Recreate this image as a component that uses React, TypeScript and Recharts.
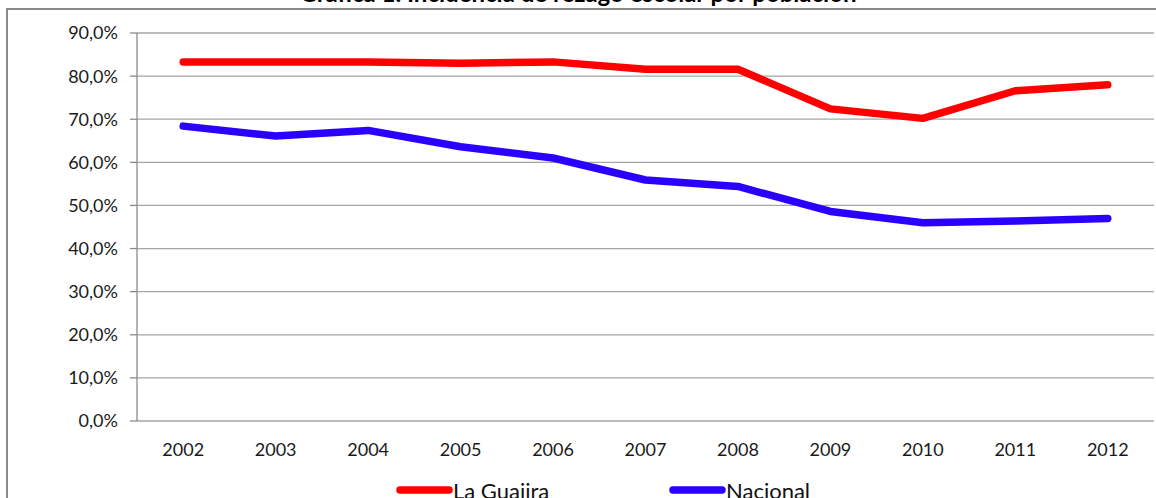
import React from "react";
import { LineChart, Line, XAxis, YAxis, CartesianGrid, Legend } from "recharts";

// Tasas por año
const years = [2002, 2003, 2004, 2005, 2006, 2007, 2008, 2009, 2010, 2011, 2012];
const laGuajira = [83.3, 83.3, 83.3, 83.0, 83.3, 81.6, 81.6, 72.4, 70.2, 76.6, 78.0];
const nacional = [68.4, 66.1, 67.4, 63.6, 61.0, 55.9, 54.4, 48.6, 46.0, 46.4, 47.0];
const yTicks = [0, 10, 20, 30, 40, 50, 60, 70, 80, 90];

const title = "Gráfica 1. Incidencia de rezago escolar por población";

const data = years.map((year, i) => ({
  year,
  laGuajira: laGuajira[i],
  nacional: nacional[i],
}));

// Excel-style tick marks sit between categories
const boundaryTicks = [...years.map((y) => y - 0.5), years[years.length - 1] + 0.5];
const xDomain = [boundaryTicks[0], boundaryTicks[boundaryTicks.length - 1]];

const FONT = "Lato, 'Open Sans', sans-serif";
const AXIS = "#8c8c8c";

const fmtPct = (v: number) => `${v.toFixed(1).replace(".", ",")}%`;

// legend swatch positions (px from left of the chart)
const legendX = [397, 670];

function LegendContent(props: any) {
  const payload = props.payload || [];
  return (
    <svg width={1156} height={30} style={{ overflow: "visible", display: "block" }}>
      {payload.map((entry: any, i: number) => (
        <g key={entry.value}>
          <line
            x1={legendX[i] + 3}
            x2={legendX[i] + 52}
            y1={22}
            y2={22}
            stroke={entry.color}
            strokeWidth={7.5}
            strokeLinecap="round"
          />
          <text x={legendX[i] + 56} y={31} fontSize={22} fontFamily={FONT} fill="#111">
            {entry.value}
          </text>
        </g>
      ))}
    </svg>
  );
}

export default function App() {
  return (
    <div
      style={{
        position: "absolute",
        left: 0,
        top: 0,
        width: 1156,
        height: 498,
        overflow: "hidden",
        background: "#fff",
        fontFamily: FONT,
      }}
    >
      <div
        style={{
          position: "absolute",
          left: 0,
          top: -22,
          width: 1156,
          textAlign: "center",
          fontWeight: 700,
          fontSize: 24,
          lineHeight: "normal",
          color: "#000",
        }}
      >
        {title}
      </div>
      <div
        style={{
          position: "absolute",
          left: 6,
          top: 8,
          width: 1160,
          height: 500,
          borderLeft: "2px solid #8a8a8a",
          borderTop: "2px solid #8a8a8a",
          boxSizing: "border-box",
        }}
      />
      <div style={{ position: "absolute", left: 0, top: 0 }}>
        <LineChart
          width={1156}
          height={498}
          data={data}
          margin={{ top: 33, right: 2, bottom: 0, left: 0 }}
        >
          <CartesianGrid vertical={false} stroke="#a6a6a6" strokeWidth={1.3} />
          <XAxis
            dataKey="year"
            type="number"
            domain={xDomain}
            ticks={boundaryTicks}
            allowDataOverflow
            height={0}
            tickSize={7}
            tick={() => <g />}
            stroke={AXIS}
            strokeWidth={1.3}
          />
          <XAxis
            xAxisId="labels"
            dataKey="year"
            type="number"
            domain={xDomain}
            ticks={years}
            allowDataOverflow
            height={47}
            axisLine={false}
            tickLine={false}
            tickSize={0}
            tickMargin={22}
            tick={{ fill: "#1a1a1a", fontSize: 18, fontFamily: FONT }}
            tickFormatter={(v) => String(v)}
          />
          <YAxis
            width={137}
            domain={[0, 90]}
            ticks={yTicks}
            interval={0}
            tickSize={7}
            tickMargin={12}
            stroke={AXIS}
            strokeWidth={1.3}
            tick={{ fill: "#1a1a1a", fontSize: 18, fontFamily: FONT }}
            tickFormatter={fmtPct}
          />
          <Legend verticalAlign="bottom" height={30} wrapperStyle={{ left: 0, width: 1156 }} content={LegendContent} />
          <Line
            dataKey="laGuajira"
            name="La Guajira"
            stroke="#ff0000"
            strokeWidth={7.5}
            strokeLinecap="round"
            strokeLinejoin="round"
            dot={false}
            activeDot={false}
            isAnimationActive={false}
          />
          <Line
            dataKey="nacional"
            name="Nacional"
            stroke="#2a00ff"
            strokeWidth={7.5}
            strokeLinecap="round"
            strokeLinejoin="round"
            dot={false}
            activeDot={false}
            isAnimationActive={false}
          />
        </LineChart>
      </div>
    </div>
  );
}
